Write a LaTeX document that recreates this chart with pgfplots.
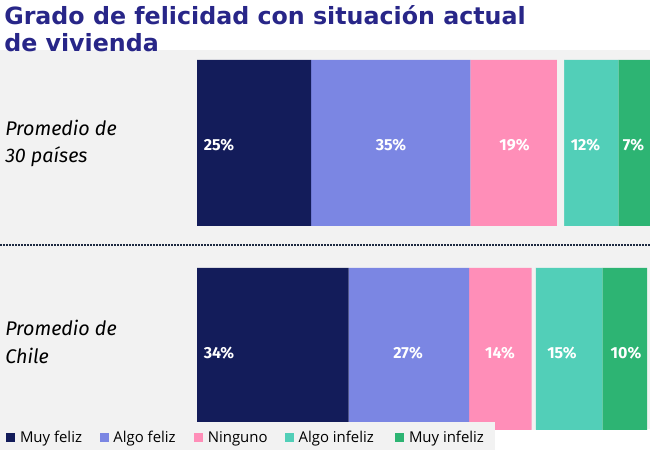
\documentclass[border=0pt]{standalone}
\usepackage{fontspec}
\usepackage{pgfplots}
\pgfplotsset{compat=1.18}
\setmainfont{Open Sans}
\newfontfamily\titlefont{DejaVu Sans}
\newfontfamily\fira{Fira Sans}
\definecolor{bggray}{RGB}{242,242,242}
\definecolor{muyfeliz}{RGB}{19,28,90}
\definecolor{algofeliz}{RGB}{123,134,227}
\definecolor{ninguno}{RGB}{255,142,184}
\definecolor{algoinfeliz}{RGB}{82,207,184}
\definecolor{muyinfeliz}{RGB}{45,180,115}
\definecolor{titlecol}{RGB}{40,38,136}
\definecolor{dotcol}{RGB}{30,42,66}
\begin{document}
\begin{tikzpicture}
\useasboundingbox (0,0) rectangle (487.5pt,337.5pt);
\begin{axis}[
  at={(0pt,15.75pt)}, anchor=south west,
  width=487.5pt, height=284.25pt, scale only axis,
  xmin=-44.17, xmax=101.57, ymin=-0.375, ymax=1.447,
  axis line style={draw=none}, ticks=none,
  axis background/.style={fill=bggray},
  xbar stacked, bar width=0.798,
  legend columns=6,
  legend image code/.code={\fill[#1] (0pt,-3.4pt) rectangle (6.8pt,3.4pt);},
  legend style={at={(0,0.0185)}, anchor=north west, fill=bggray, draw=none,
    font=\fontsize{11.2}{13}\selectfont, inner xsep=4.5pt, inner ysep=4.5pt,
    /tikz/every odd column/.append style={column sep=1.5pt},
    /tikz/every even column/.append style={column sep=0pt}},
  legend cell align=left,
]
\addplot[fill=muyfeliz, draw=none] coordinates {(34,0) (25.6,1)};
\addlegendentry{\makebox[57.75pt][l]{Muy feliz}}
\addplot[fill=algofeliz, draw=none] coordinates {(27,0) (35.7,1)};
\addlegendentry{\makebox[58.5pt][l]{Algo feliz}}
\addplot[fill=ninguno, draw=none] coordinates {(14,0) (19.4,1)};
\addlegendentry{\makebox[43.5pt][l]{Ninguno}}
\addplot[fill=bggray, draw=none] coordinates {(0.9,0) (1.6,1)};
\addlegendentry{\makebox[0pt][l]{}}
\addplot[fill=algoinfeliz, draw=none] coordinates {(15,0) (12.2,1)};
\addlegendentry{\makebox[70.5pt][l]{Algo infeliz}}
\addplot[fill=muyinfeliz, draw=none] coordinates {(10,0) (7.1,1)};
\addlegendentry{\makebox[57.75pt][l]{Muy infeliz}}
\draw[dotcol, line width=1.5pt, dash pattern=on 1.5pt off 0.75pt] (rel axis cs:0,0.4855) -- (rel axis cs:1,0.4855);
\end{axis}
\begin{scope}[every node/.style={text=white, inner sep=0pt, font=\fira\bfseries\fontsize{12}{14}\selectfont}]
\node at (164.25pt,228.75pt) {25\%};
\node at (293.25pt,228.75pt) {35\%};
\node at (385.9pt,228.75pt) {19\%};
\node at (439.1pt,228.75pt) {12\%};
\node at (475.1pt,228.75pt) {7\%};
\node at (164.25pt,72.75pt) {34\%};
\node at (306pt,72.75pt) {27\%};
\node at (375pt,72.75pt) {14\%};
\node at (421.5pt,72.75pt) {15\%};
\node at (469.5pt,72.75pt) {10\%};
\end{scope}
\begin{scope}[every node/.style={anchor=base west, inner sep=0pt, font=\fira\itshape\fontsize{14.8}{16}\selectfont}]
\node at (3.75pt,235.5pt) {Promedio de};
\node at (3.75pt,215.25pt) {30 países};
\node at (3.75pt,85.5pt) {Promedio de};
\node at (3.75pt,64.5pt) {Chile};
\end{scope}
\begin{scope}[every node/.style={anchor=base west, inner sep=0pt, text=titlecol, font=\titlefont\bfseries\fontsize{17.8}{20}\selectfont}]
\node at (3pt,318.75pt) {Grado de felicidad con situación actual};
\node at (3pt,298.5pt) {de vivienda};
\end{scope}
\end{tikzpicture}
\end{document}
